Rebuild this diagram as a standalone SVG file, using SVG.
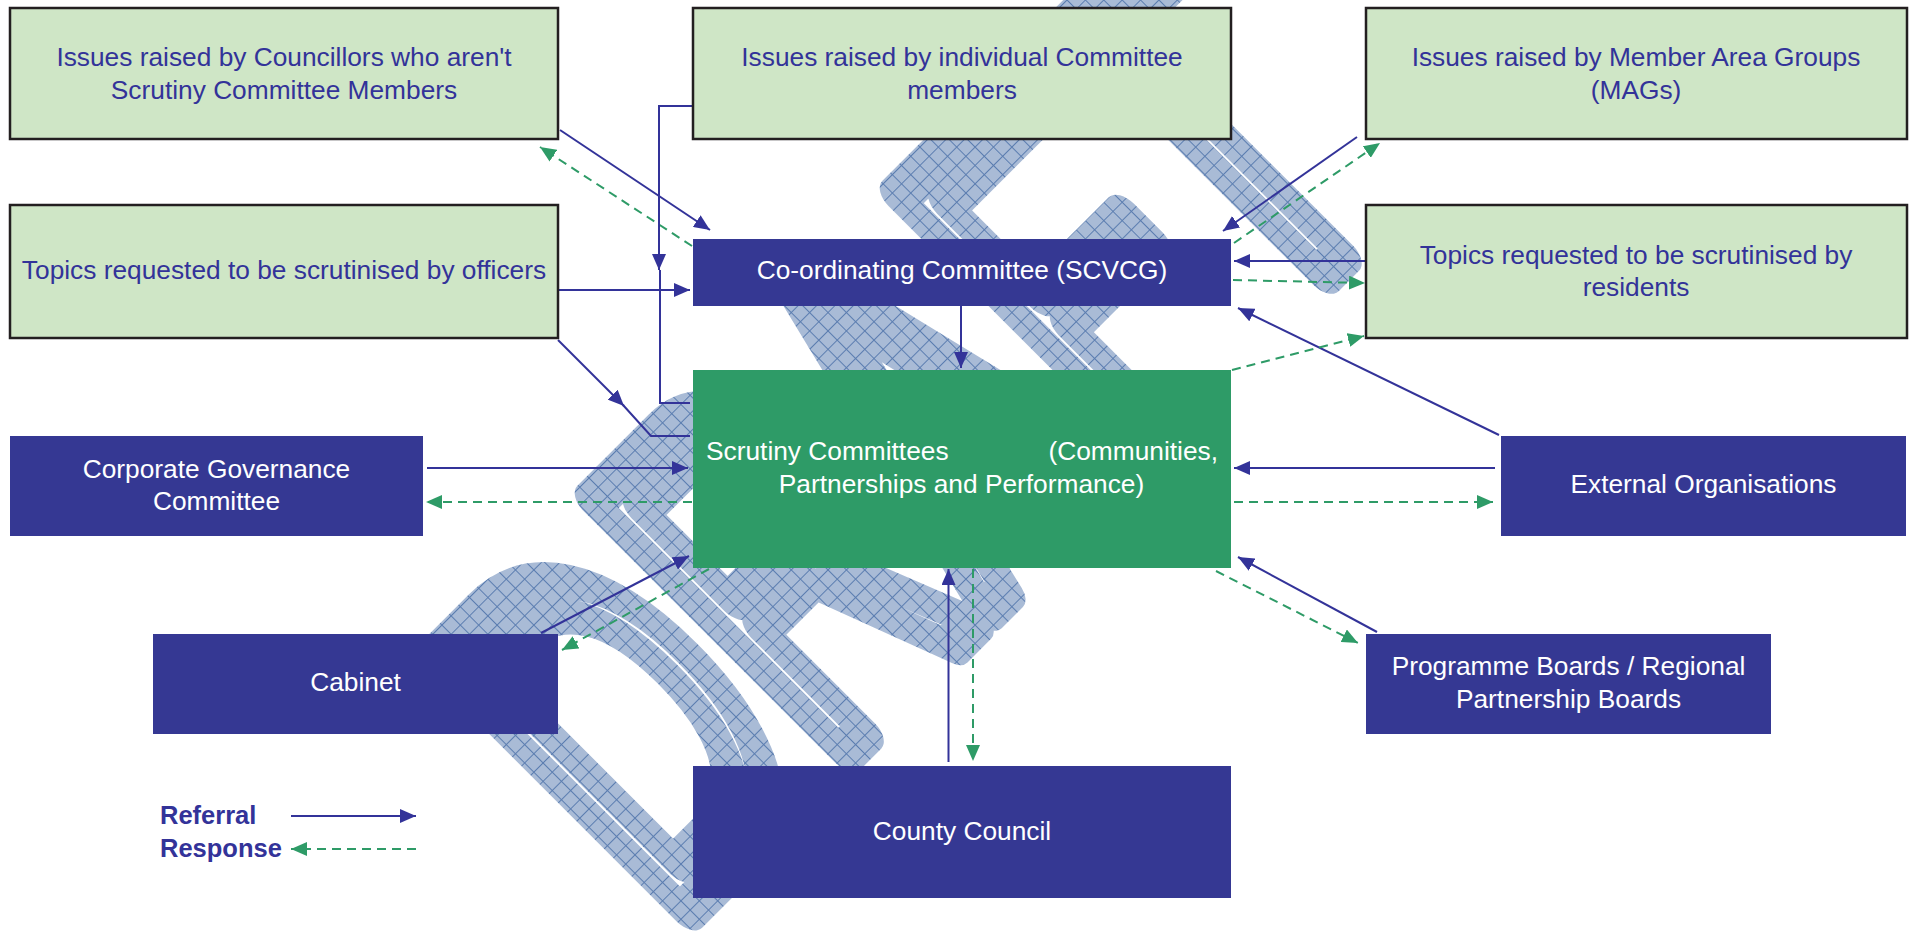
<svg xmlns="http://www.w3.org/2000/svg" width="1912" height="944" viewBox="0 0 1912 944">
<style>
.t{font-family:"Liberation Sans",Arial,sans-serif;font-size:26.3px;text-anchor:middle}
.dk{fill:#333399}
.wh{fill:#ffffff}
.lg{fill:#CFE6C6;stroke:#231F20;stroke-width:2.5}
.nv{fill:#353893}
.gr{fill:#2E9B67}
.ref{fill:none;stroke:#333399;stroke-width:2}
.rsp{fill:none;stroke:#2E9B67;stroke-width:2;stroke-dasharray:9 6}
.leg{font-family:"Liberation Sans",Arial,sans-serif;font-size:25.5px;font-weight:bold;fill:#333399}
</style>
<defs>
<pattern id="hatch" width="13" height="13" patternUnits="userSpaceOnUse">
<rect width="13" height="13" fill="#A9BBD6"/>
<path d="M0 0.5H13M0.5 0V13" stroke="#5B7DB0" stroke-width="1"/>
</pattern>
<marker id="ab" markerUnits="userSpaceOnUse" markerWidth="16" markerHeight="14" refX="16" refY="7" orient="auto">
<path d="M0,0 L16,7 L0,14 z" fill="#333399"/>
</marker>
<marker id="ag" markerUnits="userSpaceOnUse" markerWidth="16" markerHeight="14" refX="16" refY="7" orient="auto">
<path d="M0,0 L16,7 L0,14 z" fill="#2E9B67"/>
</marker>
</defs>
<rect width="1912" height="944" fill="#ffffff"/>
<g id="watermark">
<text transform="rotate(-45)" x="-185" y="1130" textLength="1035" lengthAdjust="spacingAndGlyphs" style="font-family:'Liberation Sans',Arial,sans-serif;font-size:517px;fill:none;stroke:url(#hatch);stroke-width:45;stroke-linejoin:round;stroke-linecap:round">DRAFT</text>
</g>
<g id="connectors">
<path class="ref" d="M560,130 L710,230" marker-end="url(#ab)"/>
<path class="rsp" d="M692,246 L540,147" marker-end="url(#ag)"/>
<path class="ref" d="M692,106 H659 V270" marker-end="url(#ab)"/>
<path class="ref" d="M660,270 V403 H690"/>
<path class="ref" d="M558,290 H690" marker-end="url(#ab)"/>
<path class="ref" d="M558,340 L624,406" marker-end="url(#ab)"/>
<path class="ref" d="M623,405 L651,436 H690"/>
<path class="ref" d="M427,468 H688" marker-end="url(#ab)"/>
<path class="rsp" d="M692,502 H426" marker-end="url(#ag)"/>
<path class="ref" d="M541,633 L689,556" marker-end="url(#ab)"/>
<path class="rsp" d="M709,569 L562,650" marker-end="url(#ag)"/>
<path class="ref" d="M948.5,762 V569" marker-end="url(#ab)"/>
<path class="rsp" d="M973,569 V761" marker-end="url(#ag)"/>
<path class="ref" d="M961,306 V368" marker-end="url(#ab)"/>
<path class="ref" d="M1357,137 L1223,231" marker-end="url(#ab)"/>
<path class="rsp" d="M1234,243 L1380,143" marker-end="url(#ag)"/>
<path class="ref" d="M1366,261 H1234" marker-end="url(#ab)"/>
<path class="rsp" d="M1233,280 L1365,283" marker-end="url(#ag)"/>
<path class="ref" d="M1499,435 L1238,308" marker-end="url(#ab)"/>
<path class="rsp" d="M1232,370 L1364,336" marker-end="url(#ag)"/>
<path class="ref" d="M1495,468 H1234" marker-end="url(#ab)"/>
<path class="rsp" d="M1234,502 H1493" marker-end="url(#ag)"/>
<path class="ref" d="M1377,632 L1238,557" marker-end="url(#ab)"/>
<path class="rsp" d="M1216,571 L1358,643" marker-end="url(#ag)"/>
</g>
<g id="n-councillors">
<rect class="lg" x="10" y="8" width="548" height="131"/>
<text class="t dk" x="284" y="66">Issues raised by Councillors who aren't</text>
<text class="t dk" x="284" y="98.5">Scrutiny Committee Members</text>
</g>
<g id="n-individual">
<rect class="lg" x="693" y="8" width="538" height="131"/>
<text class="t dk" x="962" y="66">Issues raised by individual Committee</text>
<text class="t dk" x="962" y="98.5">members</text>
</g>
<g id="n-mags">
<rect class="lg" x="1366" y="8" width="541" height="131"/>
<text class="t dk" x="1636" y="66">Issues raised by Member Area Groups</text>
<text class="t dk" x="1636" y="98.5">(MAGs)</text>
</g>
<g id="n-officers">
<rect class="lg" x="10" y="205" width="548" height="133"/>
<text class="t dk" x="284" y="279">Topics requested to be scrutinised by officers</text>
</g>
<g id="n-residents">
<rect class="lg" x="1366" y="205" width="541" height="133"/>
<text class="t dk" x="1636" y="263.5">Topics requested to be scrutinised by</text>
<text class="t dk" x="1636" y="296">residents</text>
</g>
<g id="n-coord">
<rect class="nv" x="693" y="239" width="538" height="67"/>
<text class="t wh" x="962" y="279">Co-ordinating Committee (SCVCG)</text>
</g>
<g id="n-scrutiny">
<rect class="gr" x="693" y="370" width="538" height="198"/>
<text class="t wh" x="706" y="460" style="text-anchor:start">Scrutiny Committees</text>
<text class="t wh" x="1218" y="460" style="text-anchor:end">(Communities,</text>
<text class="t wh" x="961.5" y="493">Partnerships and Performance)</text>
</g>
<g id="n-corporate">
<rect class="nv" x="10" y="436" width="413" height="100"/>
<text class="t wh" x="216.5" y="478">Corporate Governance</text>
<text class="t wh" x="216.5" y="510">Committee</text>
</g>
<g id="n-external">
<rect class="nv" x="1501" y="436" width="405" height="100"/>
<text class="t wh" x="1703.5" y="493">External Organisations</text>
</g>
<g id="n-cabinet">
<rect class="nv" x="153" y="634" width="405" height="100"/>
<text class="t wh" x="355.5" y="691">Cabinet</text>
</g>
<g id="n-programme">
<rect class="nv" x="1366" y="634" width="405" height="100"/>
<text class="t wh" x="1568.5" y="675">Programme Boards / Regional</text>
<text class="t wh" x="1568.5" y="708">Partnership Boards</text>
</g>
<g id="n-county">
<rect class="nv" x="693" y="766" width="538" height="132"/>
<text class="t wh" x="962" y="840">County Council</text>
</g>
<g id="legend">
<text class="leg" x="160" y="824">Referral</text>
<text class="leg" x="160" y="857">Response</text>
<path class="ref" d="M291,816 H416" marker-end="url(#ab)"/>
<path class="rsp" d="M416,849 H291" marker-end="url(#ag)"/>
</g>
</svg>
